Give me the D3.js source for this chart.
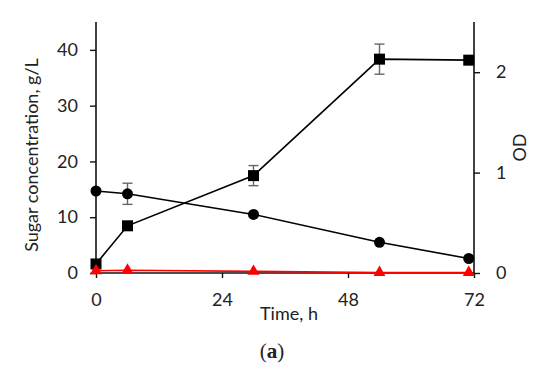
<!DOCTYPE html>
<html>
<head>
<meta charset="utf-8">
<script src="https://cdn.jsdelivr.net/npm/d3@7"></script>
<style>
  body { margin: 0; background: #fff; }
  svg text { font-family: Lato, "Open Sans", sans-serif; fill: #222; }
</style>
</head>
<body>
<svg id="chart" width="550" height="375"></svg>
<script>
// sampling times (h)
const times = [0, 6, 30, 54, 71];
// sugar, g/L (left axis)
const sugar = [14.7, 14.2, 10.5, 5.5, 2.6];
const sugarErr = [0, 1.9, 0, 0, 0];
// OD (right axis)
const od = [0.09, 0.47, 0.97, 2.13, 2.12];
const odErr = [0, 0, 0.1, 0.15, 0];
// third series, g/L (left axis)
const other = [0.4, 0.5, 0.3, 0.1, 0.1];

const xTicks = [0, 24, 48, 72];
const yTicks = [0, 10, 20, 30, 40];
const odTicks = [0, 1, 2];

const svg = d3.select("#chart");
const margin = { top: 22, right: 76, bottom: 102, left: 96 };
const width = +svg.attr("width");
const height = +svg.attr("height");
const fs = 18;

const x = d3.scaleLinear().domain([0, 72]).range([margin.left, width - margin.right]);
const y = d3.scaleLinear().domain([0, 45]).range([height - margin.bottom, margin.top]);
const y2 = d3.scaleLinear().domain([0, 2.5]).range([height - margin.bottom, margin.top]);

const zip = (vals, errs) => times.map((t, i) => ({ t, v: vals[i], e: errs ? errs[i] : 0 }));
const sugarData = zip(sugar, sugarErr);
const odData = zip(od, odErr);
const otherData = zip(other);

// axes
const xAxis = svg.append("g")
    .attr("transform", `translate(0,${y(0)})`)
    .call(d3.axisBottom(x).tickValues(xTicks).tickSize(5).tickPadding(15));
const yAxis = svg.append("g")
    .attr("transform", `translate(${margin.left},0)`)
    .call(d3.axisLeft(y).tickValues(yTicks).tickSize(6).tickPadding(12));
const y2Axis = svg.append("g")
    .attr("transform", `translate(${x(72)},0)`)
    .call(d3.axisRight(y2).tickValues(odTicks).tickFormat(d3.format("d")).tickSize(6).tickPadding(16));

[xAxis, yAxis, y2Axis].forEach(a => {
    a.select(".domain").attr("stroke", "#111").attr("stroke-width", 1.6);
    a.selectAll(".tick line").attr("stroke", "#111").attr("stroke-width", 1.4);
    a.selectAll("text").attr("font-size", fs).attr("font-family", "Lato, sans-serif").attr("fill", "#222");
});
yAxis.select(".domain").attr("d", `M0,${y(45)}V${y(0)}`);
y2Axis.select(".domain").attr("d", `M0,${y2(2.5)}V${y2(0)}`);
xAxis.select(".domain").attr("d", `M${x(0)},0H${x(72)}`);

// error bars
function errorBars(data, scale) {
    const g = svg.append("g").attr("stroke", "#666").attr("stroke-width", 1.4);
    data.filter(d => d.e > 0).forEach(d => {
        const cx = x(d.t);
        g.append("line").attr("x1", cx).attr("x2", cx).attr("y1", scale(d.v - d.e)).attr("y2", scale(d.v + d.e));
        g.append("line").attr("x1", cx - 5).attr("x2", cx + 5).attr("y1", scale(d.v - d.e)).attr("y2", scale(d.v - d.e));
        g.append("line").attr("x1", cx - 5).attr("x2", cx + 5).attr("y1", scale(d.v + d.e)).attr("y2", scale(d.v + d.e));
    });
}
errorBars(sugarData, y);
errorBars(odData, y2);

// lines
function drawLine(data, scale, color) {
    svg.append("path").datum(data)
        .attr("fill", "none")
        .attr("stroke", color)
        .attr("stroke-width", 1.6)
        .attr("d", d3.line().x(d => x(d.t)).y(d => scale(d.v)));
}
drawLine(sugarData, y, "#000");
drawLine(odData, y2, "#000");
drawLine(otherData, y, "#f00");

// markers
svg.append("g").selectAll("circle").data(sugarData).join("circle")
    .attr("cx", d => x(d.t)).attr("cy", d => y(d.v)).attr("r", 5.5).attr("fill", "#000");

svg.append("g").selectAll("rect").data(odData).join("rect")
    .attr("x", d => x(d.t) - 5.5).attr("y", d => y2(d.v) - 5.5)
    .attr("width", 11).attr("height", 11).attr("fill", "#000");

svg.append("g").selectAll("path").data(otherData).join("path")
    .attr("transform", d => `translate(${x(d.t)},${y(d.v)})`)
    .attr("d", d3.symbol().type(d3.symbolTriangle).size(62))
    .attr("fill", "#f00");

// axis titles
svg.append("text")
    .attr("transform", `translate(38,155) rotate(-90)`)
    .attr("text-anchor", "middle").attr("font-size", fs)
    .text("Sugar concentration, g/L");

svg.append("text")
    .attr("transform", `translate(526,${y2(1.25)}) rotate(-90)`)
    .attr("text-anchor", "middle").attr("font-size", fs)
    .text("OD");

svg.append("text")
    .attr("x", 289).attr("y", 320)
    .attr("text-anchor", "middle").attr("font-size", fs)
    .text("Time, h");

const cap = svg.append("text")
    .attr("x", 272).attr("y", 358)
    .attr("text-anchor", "middle").attr("font-size", 21)
    .style("font-family", "'Liberation Serif', serif");
cap.append("tspan").text("(");
cap.append("tspan").attr("font-weight", "bold").text("a");
cap.append("tspan").text(")");
</script>
</body>
</html>
